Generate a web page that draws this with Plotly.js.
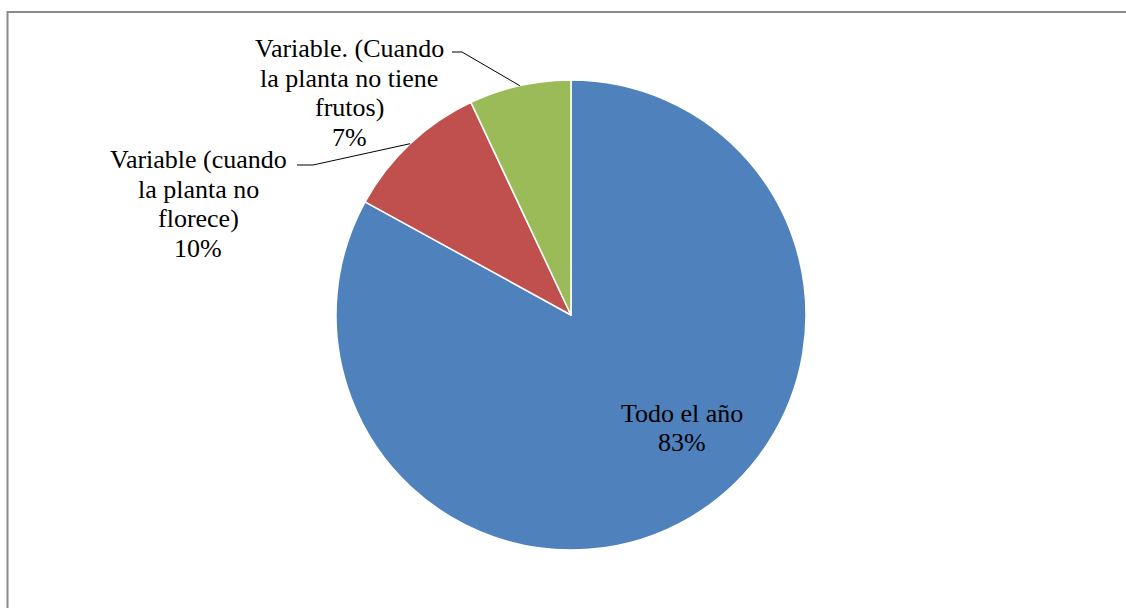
<!DOCTYPE html>
<html>
<head>
<meta charset="utf-8">
<script src="https://cdn.plot.ly/plotly-3.0.1.min.js"></script>
<style>html,body{margin:0;padding:0;background:#fff;}#chart{width:1126px;height:608px;}</style>
</head>
<body>
<div id="chart"></div>
<script>
// ---- data ----
const categories = ["Todo el año", "Variable (cuando<br>la planta no<br>florece)", "Variable. (Cuando<br>la planta no tiene<br>frutos)"];
const values = [83, 10, 7];
const percentLabels = ["83%", "10%", "7%"];
const colors = ["#4F81BD", "#C0504D", "#9BBB59"];

// ---- layout constants (pixels) ----
const W = 1126, H = 608;
const cx = 571, cy = 315, R = 235;
const labelPos = [[682, 428], [198, 204], [349, 93]];       // label centres
const leaderStart = [null, [297, 165], [452, 52]];           // label-side end of leader
const leaderKnee = [null, [313, 165], [462, 52]];
const LINE_H = 29.6;
const FONT = {family: "Liberation Serif", size: 26, color: "#000"};

const px = x => x / W;
const py = y => 1 - y / H;

// angles of slice mid points (clockwise from 12 o'clock)
const total = values.reduce((a, b) => a + b, 0);
let cum = 0;
const midAngles = values.map(v => { const m = (cum + v / 2) / total * 2 * Math.PI; cum += v; return m; });

const annotations = [];
categories.forEach((c, i) => {
  const lines = (c + "<br>" + percentLabels[i]).split("<br>");
  const n = lines.length;
  lines.forEach((t, k) => {
    annotations.push({
      xref: "paper", yref: "paper",
      x: px(labelPos[i][0]), y: py(labelPos[i][1] + (k - (n - 1) / 2) * LINE_H),
      xanchor: "center", yanchor: "middle", align: "center",
      text: t, showarrow: false, font: FONT
    });
  });
});

const shapes = [{
  type: "rect", xref: "paper", yref: "paper",
  x0: px(7.5), x1: 1.05, y0: -0.05, y1: py(12),
  line: {color: "#8a8a8a", width: 2}, fillcolor: "rgba(0,0,0,0)"
}];
values.forEach((v, i) => {
  if (!leaderStart[i]) return;
  const a = midAngles[i];
  const tx = cx + R * Math.sin(a), ty = cy - R * Math.cos(a);
  shapes.push({
    type: "path", xref: "paper", yref: "paper",
    path: `M ${px(leaderStart[i][0])},${py(leaderStart[i][1])} L ${px(leaderKnee[i][0])},${py(leaderKnee[i][1])} L ${px(tx)},${py(ty)}`,
    line: {color: "#000", width: 1}
  });
});

const trace = {
  type: "pie",
  labels: categories.map((c, i) => "s" + i),
  values: values,
  sort: false,
  direction: "clockwise",
  rotation: 0,
  marker: {colors: colors, line: {color: "#fff", width: 1.5}},
  textinfo: "none",
  hoverinfo: "none",
  showlegend: false,
  domain: {x: [px(cx - R), px(cx + R)], y: [py(cy + R), py(cy - R)]}
};

Plotly.newPlot("chart", [trace], {
  width: W, height: H,
  margin: {l: 0, r: 0, t: 0, b: 0},
  paper_bgcolor: "#fff",
  showlegend: false,
  annotations: annotations,
  shapes: shapes
}, {staticPlot: true});
</script>
</body>
</html>
